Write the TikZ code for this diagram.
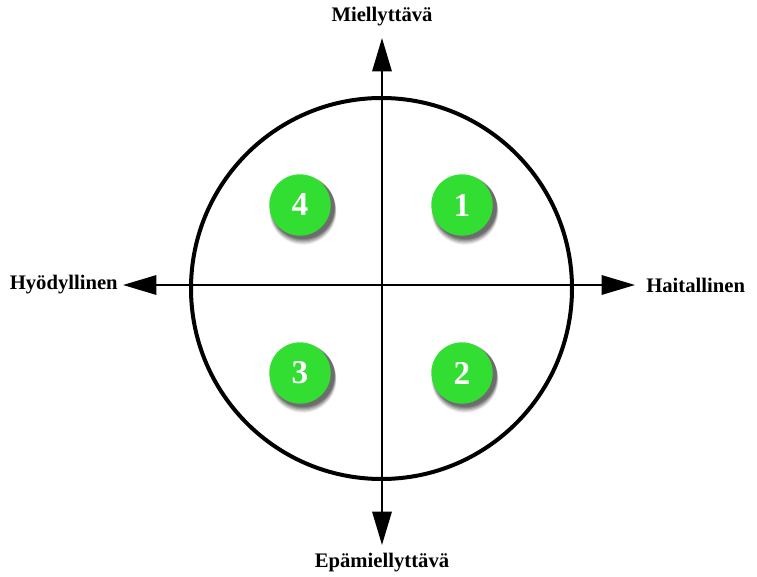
\documentclass[tikz,border=0pt]{standalone}
\usepackage{fontspec}
\setmainfont{Liberation Serif}
\usetikzlibrary{arrows.meta}
\begin{document}
\begin{tikzpicture}[x=0.75pt,y=-0.75pt,
  axis/.style={line width=1.6pt, -{Triangle[length=25pt,width=14.5pt]}},
  axislabel/.style={font=\bfseries\fontsize{15.5}{18}\selectfont, inner sep=0pt},
  ball/.style={circle, fill=ballgreen, minimum size=46pt, inner sep=0pt,
    text=white, font=\bfseries\fontsize{25}{28}\selectfont},
  shade/.style={circle, fill=black, minimum size=46pt, inner sep=0pt}
]
\definecolor{ballgreen}{RGB}{51,222,51}
\useasboundingbox (0,0) rectangle (757,577);
% big circle
\draw[line width=3pt] (381.5,288.5) circle[radius=190.5];
% axis ends
\coordinate (top) at (382,38);
\coordinate (bottom) at (382,545);
\coordinate (left) at (123,285);
\coordinate (right) at (635,285);
\coordinate (origin) at (382,285);
\draw[axis] (origin) -- (top);
\draw[axis] (origin) -- (bottom);
\draw[axis] (origin) -- (left);
\draw[axis] (origin) -- (right);
% labels
\node[axislabel] (lt) at (382,17) {Miellyttävä};
\node[axislabel] (lb) at (382,563) {Epämiellyttävä};
\node[axislabel, anchor=east] (ll) at (118,285) {Hyödyllinen};
\node[axislabel, anchor=west] (lr) at (646,285) {Haitallinen};
% shadows
\foreach \cx/\cy in {300/205, 462/205, 300/373, 462/373}{
  \foreach \d/\op in {8/0.08, 7/0.10, 6/0.12, 5/0.14, 4/0.16, 3/0.18}{
    \node[shade, opacity=\op, minimum size=46pt+0.5pt*\d] at (\cx+3,\cy+\d*0.8) {};
  }
}
% balls
\node[ball] (b4) at (300,205) {4};
\node[ball] (b1) at (462,205) {1};
\node[ball] (b3) at (300,373) {3};
\node[ball] (b2) at (462,373) {2};
\end{tikzpicture}
\end{document}
